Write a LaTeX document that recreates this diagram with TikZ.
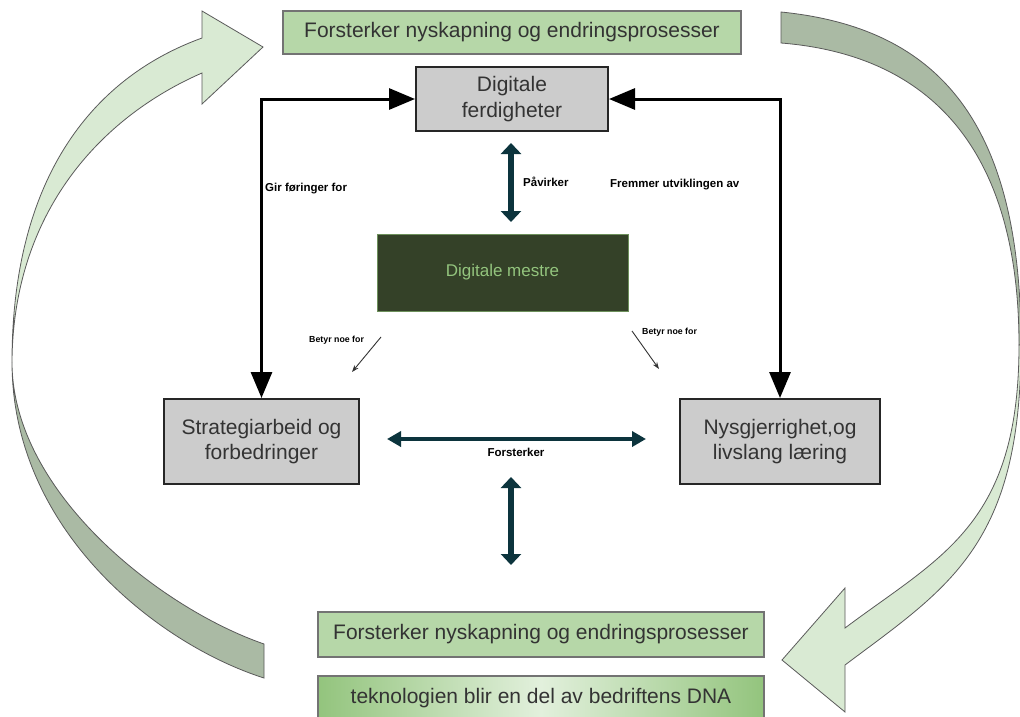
\documentclass[tikz,border=0pt]{standalone}
\usepackage{fontspec}
\setmainfont{Liberation Sans}
\usetikzlibrary{arrows.meta}

\definecolor{boxgreen}{HTML}{B6D7A8}
\definecolor{ribbonlight}{HTML}{D9EAD3}
\definecolor{ribbondark}{HTML}{AABAA4}
\definecolor{ribbonedge}{HTML}{5A5A5A}
\definecolor{boxgray}{HTML}{CCCCCC}
\definecolor{masterfill}{HTML}{344128}
\definecolor{mastertext}{HTML}{93C47D}
\definecolor{deepteal}{HTML}{0C343D}
\definecolor{gradedge}{HTML}{93C47D}
\definecolor{gradmid}{HTML}{E2F0DC}
\definecolor{textgray}{HTML}{333333}

\tikzset{
  greenbox/.style={draw=black!55, line width=1.2pt, fill=boxgreen, inner sep=0pt,
    text=textgray, font=\fontsize{21}{25}\selectfont},
  graybox/.style={draw=black!85, line width=2pt, fill=boxgray, inner sep=0pt,
    align=center, text=textgray, font=\fontsize{21}{25.5}\selectfont},
  masterbox/.style={draw=mastertext!60!masterfill, line width=1pt, fill=masterfill,
    inner sep=0pt, text=mastertext, font=\fontsize{17}{20}\selectfont},
  lbl/.style={inner sep=0pt, font=\bfseries\fontsize{11.5}{13}\selectfont},
  tinylbl/.style={inner sep=0pt, font=\bfseries\fontsize{8.8}{10}\selectfont},
  link/.style={line width=3pt, draw=black,
    {Triangle[length=26pt,width=21pt]}-{Triangle[length=26pt,width=21pt]}},
  tealv/.style={line width=6pt, draw=deepteal,
    {Triangle[length=11pt,width=20pt]}-{Triangle[length=11pt,width=20pt]}},
  tealh/.style={line width=4.5pt, draw=deepteal,
    {Triangle[length=14pt,width=15pt]}-{Triangle[length=14pt,width=15pt]}},
  thinarrow/.style={line width=0.9pt, draw=black!80, -{Stealth[length=7pt,width=5pt]}},
  ribbon/.style={draw=ribbonedge, line width=0.8pt},
}

\begin{document}
\begin{tikzpicture}[x=1pt, y=-1pt]
  \clip (0,0) rectangle (1020,717);
  \fill[white] (0,0) rectangle (1020,717);

  % left curved arrow: back face below, front face with head on top
  \filldraw[ribbon, fill=ribbondark]
    (12,362) .. controls (12,532) and (160,645) .. (264,678)
    -- (264,644) .. controls (160,608) and (12,492) .. (12,362) -- cycle;
  \filldraw[ribbon, fill=ribbonlight]
    (12,362) .. controls (12,182) and (89,79) .. (202,38)
    -- (202,11) -- (263,47) -- (202,104) -- (202,73)
    .. controls (101,117) and (13,212) .. (12,362) -- cycle;

  % right curved arrow: back face on top, front face with head below
  \filldraw[ribbon, fill=ribbondark]
    (781,12) .. controls (941,28) and (1021,125) .. (1021,345)
    -- (1019,345) .. controls (1019,150) and (931,55) .. (781,43) -- cycle;
  \filldraw[ribbon, fill=ribbonlight]
    (1021,345) .. controls (1021,545) and (949,587) .. (845,665)
    -- (845,712) -- (782,660) -- (845,588) -- (845,628)
    .. controls (941,556) and (1019,525) .. (1019,345) -- cycle;

  % boxes
  \node[greenbox, minimum width=458pt, minimum height=43pt] (topbox) at (512,32.5)
    {Forsterker nyskapning og endringsprosesser};
  \node[graybox, minimum width=192pt, minimum height=64pt] (digf) at (512,99)
    {Digitale\\ferdigheter};
  \node[masterbox, minimum width=251pt, minimum height=77pt] (mestre) at (502.5,272.5)
    {Digitale mestre};
  \node[graybox, minimum width=195pt, minimum height=85pt] (strat) at (261.5,441.5)
    {Strategiarbeid og\\forbedringer};
  \node[graybox, minimum width=200pt, minimum height=85pt] (nys) at (780,441.5)
    {Nysgjerrighet,og\\livslang læring};
  \node[greenbox, minimum width=446pt, minimum height=45pt] (botbox) at (541,634.5)
    {Forsterker nyskapning og endringsprosesser};
  \node[greenbox, minimum width=446pt, minimum height=45pt,
    left color=gradedge, right color=gradedge, middle color=gradmid] (dnabox) at (541,698.5)
    {teknologien blir en del av bedriftens DNA};

  % elbow connectors
  \draw[link] (strat.north) |- (digf.west);
  \draw[link] (nys.north) |- (digf.east);

  % double arrows
  \coordinate (pv1) at (511,143);
  \coordinate (pv2) at (511,222);
  \draw[tealv] (pv1) -- (pv2);
  \coordinate (fs1) at (387,439);
  \coordinate (fs2) at (646,439);
  \draw[tealh] (fs1) -- (fs2);
  \coordinate (vb1) at (511,477);
  \coordinate (vb2) at (511,565);
  \draw[tealv] (vb1) -- (vb2);

  % small arrows from the centre box
  \coordinate (bl1) at (381,337);
  \coordinate (bl2) at (352,372);
  \draw[thinarrow] (bl1) -- (bl2);
  \coordinate (br1) at (632,331);
  \coordinate (br2) at (659,369);
  \draw[thinarrow] (br1) -- (br2);

  % labels
  \node[lbl, anchor=west] (lgir) at (265,189) {Gir føringer for};
  \node[lbl, anchor=west] (lfrem) at (610,185) {Fremmer utviklingen av};
  \node[lbl, anchor=west] (lpav) at (523,182) {Påvirker};
  \node[lbl] (lfors) at (516,452) {Forsterker};
  \node[tinylbl, anchor=west] (lbetl) at (309,340) {Betyr noe for};
  \node[tinylbl, anchor=west] (lbetr) at (642,332) {Betyr noe for};
\end{tikzpicture}
\end{document}
